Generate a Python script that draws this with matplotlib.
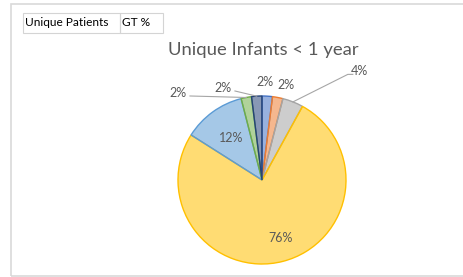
import numpy as np
import matplotlib.pyplot as plt
from matplotlib.patches import Rectangle

plt.rcParams['font.family'] = ['Lato', 'DejaVu Sans']

# data
categories = ['A', 'B', 'C', 'D', 'E', 'F', 'G']
shares = [2, 2, 4, 76, 12, 2, 2]
labels = ['2%', '2%', '4%', '76%', '12%', '2%', '2%']
edge_colors = ['#4472C4', '#ED7D31', '#A5A5A5', '#FFC000', '#5B9BD5', '#70AD47', '#264478']
title = 'Unique Infants < 1 year'
header_cells = ['Unique Patients', 'GT %']

W, H = 464, 277
fig = plt.figure(figsize=(W / 100, H / 100), dpi=100)
ax = fig.add_axes([0, 0, 1, 1])

cx, cy, R = 262, H - 180, 84
wedges, _ = ax.pie(shares, center=(cx, cy), radius=R, startangle=90, counterclock=False,
                   colors=[(*plt.matplotlib.colors.to_rgb(c), 0.55) for c in edge_colors],
                   wedgeprops=dict(linewidth=1.0), frame=True)
for w, c in zip(wedges, edge_colors):
    w.set_edgecolor(c)
ax.set_xlim(0, W)
ax.set_ylim(0, H)
ax.set_aspect('auto')
ax.axis('off')

# chart frame (runs off the right edge)
ax.add_patch(Rectangle((11, 1), W, H - 5, fill=False, edgecolor='#D9D9D9', lw=1.2))

# header cells
x0 = 23
for txt, w in zip(header_cells, [97, 43]):
    ax.add_patch(Rectangle((x0, H - 33), w, 20, fill=False, edgecolor='#D4D4D4', lw=0.8))
    ax.text(x0 + 2, H - 23, txt, fontsize=8.6, color='black', va='center', ha='left')
    x0 += w

ax.text(263, H - 50, title, fontsize=13.3, color='#595959', ha='center', va='center')

# label placement: (angle deg, distance in radii), leader line or not
place = [(88, 1.17, False), (76, 1.17, False), (48, 1.74, True), (-72, 0.72, False),
         (126, 0.62, False), (134, 1.44, True), (113, 1.19, True)]
for w, lab, (ang, r, lead) in zip(wedges, labels, place):
    tx = cx + r * R * np.cos(np.radians(ang))
    ty = cy + r * R * np.sin(np.radians(ang))
    ax.text(tx, ty, lab, fontsize=9, color='#595959', ha='center', va='center')
    if lead:
        mid = np.radians((w.theta1 + w.theta2) / 2)
        ex, ey = cx + R * np.cos(mid), cy + R * np.sin(mid)
        if tx > cx:
            sx = tx - 12
            ax.plot([sx + 5, sx, ex], [ty - 3, ty - 3, ey], color='#A6A6A6', lw=0.8)
        else:
            sx = tx + 12
            ax.plot([sx, ex], [ty - 3, ey], color='#A6A6A6', lw=0.8)

fig.savefig('out.png', dpi=100)
